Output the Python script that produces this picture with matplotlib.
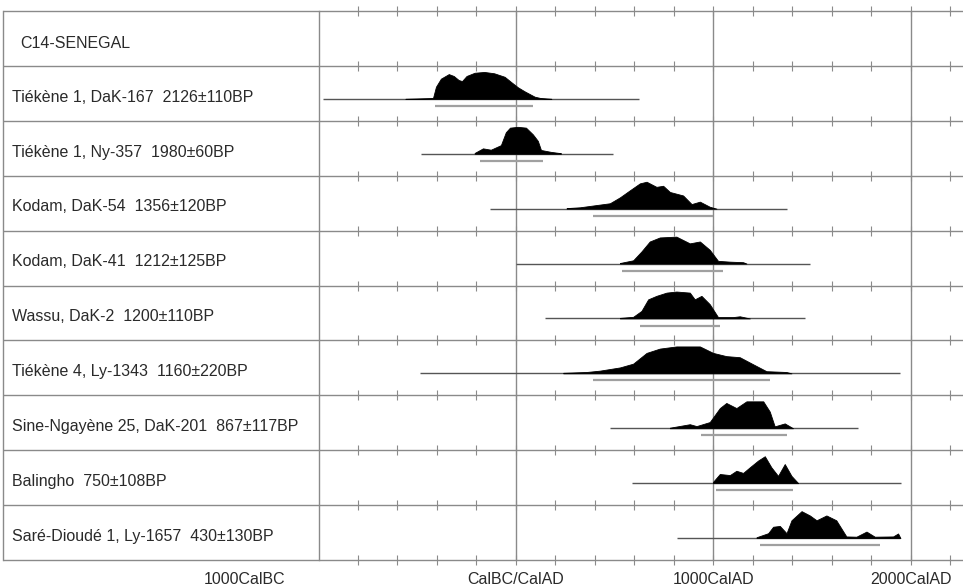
import numpy as np
import matplotlib.pyplot as plt

plt.rcParams['font.family'] = ['Liberation Sans', 'DejaVu Sans']

header = 'C14-SENEGAL'
labels = ['Tiékène 1, DaK-167  2126±110BP',
          'Tiékène 1, Ny-357  1980±60BP',
          'Kodam, DaK-54  1356±120BP',
          'Kodam, DaK-41  1212±125BP',
          'Wassu, DaK-2  1200±110BP',
          'Tiékène 4, Ly-1343  1160±220BP',
          'Sine-Ngayène 25, DaK-201  867±117BP',
          'Balingho  750±108BP',
          'Saré-Dioudé 1, Ly-1657  430±130BP']

# full span of each calibrated curve (cal years, BC negative)
span_lo = [-977, -481, -132, 3, 147, -486, 476, 586, 814]
span_hi = [623, 491, 1372, 1489, 1463, 1944, 1733, 1953, 1944]
# 95% ranges
rng_lo = [-410, -182, 390, 537, 628, 392, 940, 1016, 1235]
rng_hi = [88, 137, 997, 1050, 1033, 1286, 1371, 1404, 1843]

# probability distributions (relative to peak)
dist_yr = [
    [-560, -420, -405, -380, -340, -315, -290, -273, -250, -209, -160, -110, -57, -25, 10, 44, 95, 125, 180],
    [-209, -167, -127, -76, -51, -30, 10, 51, 86, 111, 127, 177, 228],
    [257, 324, 415, 476, 527, 577, 628, 662, 712, 746, 780, 847, 890, 932, 982, 1016],
    [527, 594, 636, 678, 729, 813, 881, 932, 982, 1024, 1084, 1151, 1168],
    [527, 594, 636, 670, 712, 763, 813, 881, 906, 940, 982, 1024, 1100, 1134, 1185],
    [240, 358, 425, 527, 594, 662, 729, 813, 932, 999, 1066, 1134, 1201, 1269, 1370, 1396],
    [780, 881, 915, 982, 1033, 1066, 1117, 1168, 1253, 1286, 1311, 1362, 1404],
    [999, 1033, 1084, 1117, 1151, 1185, 1227, 1261, 1294, 1328, 1362, 1396, 1430],
    [1219, 1278, 1303, 1337, 1371, 1396, 1447, 1489, 1523, 1573, 1623, 1674, 1725, 1776, 1818, 1911, 1936, 1948],
]
dist_p = [
    [0, 0.03, 0.45, 0.75, 0.92, 0.85, 0.7, 0.66, 0.85, 0.97, 1.0, 0.95, 0.82, 0.63, 0.43, 0.28, 0.08, 0.03, 0],
    [0.03, 0.2, 0.15, 0.32, 0.8, 0.97, 1.0, 0.97, 0.72, 0.48, 0.14, 0.07, 0.02],
    [0.02, 0.05, 0.14, 0.2, 0.42, 0.68, 0.94, 1.0, 0.81, 0.85, 0.62, 0.49, 0.17, 0.26, 0.07, 0],
    [0.02, 0.12, 0.45, 0.82, 0.97, 1.0, 0.75, 0.82, 0.51, 0.1, 0.07, 0.05, 0],
    [0.02, 0.06, 0.28, 0.71, 0.84, 0.96, 1.0, 0.96, 0.71, 0.84, 0.53, 0.05, 0.05, 0.08, 0],
    [0.02, 0.05, 0.1, 0.22, 0.36, 0.76, 0.92, 1.0, 1.0, 0.76, 0.64, 0.6, 0.34, 0.08, 0.05, 0],
    [0.02, 0.15, 0.08, 0.23, 0.75, 0.94, 0.75, 1.0, 1.0, 0.62, 0.07, 0.18, 0],
    [0.05, 0.34, 0.3, 0.46, 0.38, 0.59, 0.84, 1.0, 0.59, 0.27, 0.71, 0.27, 0],
    [0.03, 0.18, 0.42, 0.45, 0.18, 0.66, 1.0, 0.84, 0.66, 0.84, 0.66, 0.06, 0.05, 0.24, 0.05, 0.06, 0.17, 0],
]

tick_years = [-1000, 0, 1000, 2000]
tick_labels = ['1000CalBC', 'CalBC/CalAD', '1000CalAD', '2000CalAD']

W, H = 963, 588
fig = plt.figure(figsize=(W / 100, H / 100), dpi=100)
top, bot = 11, 560
fb = 1 - bot / H
fh = (bot - top) / H
ax_lab = fig.add_axes([3 / W, fb, (318.5 - 3) / W, fh])
ax = fig.add_axes([318.5 / W, fb, (W - 318.5) / W, fh])

nrows = len(labels) + 1
grid_c = '#8a8a8a'
txt_c = '#2a2a2a'
fs = 11.5

for a in (ax_lab, ax):
    a.set_ylim(nrows, 0)
    for s in a.spines.values():
        s.set_visible(False)
    a.set_xticks([])
    a.set_yticks([])

ax_lab.set_xlim(0, 1)
ax_lab.hlines(np.arange(nrows + 1), 0, 1, color=grid_c, lw=1.0, clip_on=False, zorder=1)
ax_lab.axvline(0, color=grid_c, lw=1.0, clip_on=False)
ax_lab.text(17 / 315, 0.6, header, fontsize=fs, color=txt_c, va='center')
for i, lab in enumerate(labels):
    ax_lab.text(9 / 315, i + 1.57, lab, fontsize=fs, color=txt_c, va='center')

ax.set_xlim(-1000, 2265)
ax.hlines(np.arange(nrows + 1), -1000, 2265, color=grid_c, lw=1.0, clip_on=False, zorder=1)
for yr in tick_years:
    ax.axvline(yr, color=grid_c, lw=1.0, clip_on=False, zorder=1)

# small tick marks on every row line, every 200 years
minor = np.arange(-800, 2265, 200)
for r in range(nrows + 1):
    ax.plot(minor, np.full(len(minor), r), ls='none', marker='|', ms=7,
            mew=0.8, color=grid_c, clip_on=False, zorder=1)

base_off = 0.6
scale = 0.49
for i in range(len(labels)):
    yb = i + 1 + base_off
    ax.hlines(yb, span_lo[i], span_hi[i], color='#555555', lw=1.0, zorder=2)
    ax.hlines(yb + 0.13, rng_lo[i], rng_hi[i], color='#a0a0a0', lw=1.6, zorder=2)
    x = np.array(dist_yr[i])
    p = np.array(dist_p[i])
    ax.fill_between(x, yb, yb - p * scale, color='black', lw=0.6, zorder=3)

for yr, lab in zip(tick_years, tick_labels):
    dx = -74 if yr == -1000 else 0
    ax.annotate(lab, xy=(yr, nrows), xytext=(dx, -19), textcoords='offset pixels',
                ha='center', va='center', fontsize=fs, color=txt_c,
                annotation_clip=False)

fig.savefig('out.png', dpi=100)
